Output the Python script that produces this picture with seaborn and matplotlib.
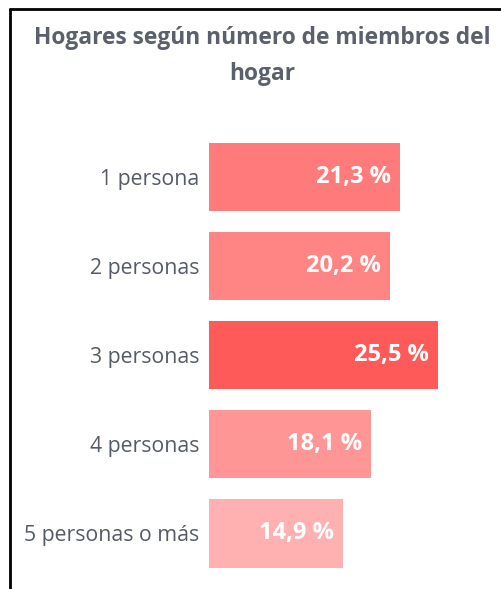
import pandas as pd
import seaborn as sns
import matplotlib.pyplot as plt
from matplotlib.lines import Line2D

# Data
categorias = ["1 persona", "2 personas", "3 personas", "4 personas", "5 personas o más"]
porcentajes = [21.3, 20.2, 25.5, 18.1, 14.9]
colores = ["#FF7B7B", "#FF8585", "#FF5A5A", "#FF9696", "#FFB0B0"]
etiquetas = ["21,3 %", "20,2 %", "25,5 %", "18,1 %", "14,9 %"]

df = pd.DataFrame({"categoria": categorias, "porcentaje": porcentajes})

sns.set_style("white")
plt.rcParams["font.family"] = ["Open Sans", "DejaVu Sans"]

fig = plt.figure(figsize=(5.02, 5.89), dpi=100)
ax = fig.add_axes([0.4163, 0.0187, 0.536, 0.7563])

sns.barplot(
    data=df, x="porcentaje", y="categoria", hue="categoria",
    palette=colores, saturation=1, legend=False, width=0.765,
    linewidth=0, ax=ax,
)

ax.set_xlim(0, 30)
ax.set_xlabel("")
ax.set_ylabel("")
ax.set_xticks([])
ax.tick_params(axis="y", length=0, pad=7, labelsize=15.3, labelcolor="#555B66")
sns.despine(ax=ax, left=True, bottom=True)

for i, (v, t) in enumerate(zip(porcentajes, etiquetas)):
    ax.text(v - 1.0, i, t, ha="right", va="center", color="white",
            fontsize=17, fontweight="bold")

fig.text(0.522, 0.905, "Hogares según número de miembros del\nhogar",
         ha="center", va="center", fontsize=16.4, fontweight="bold",
         color="#5A606C", linespacing=1.62)

# frame lines on the top and left edge
fig.add_artist(Line2D([0.02, 0.02], [0, 0.985], color="black", linewidth=2))
fig.add_artist(Line2D([0.02, 1.0], [0.985, 0.985], color="black", linewidth=2))

fig.savefig("out.png", dpi=100)
